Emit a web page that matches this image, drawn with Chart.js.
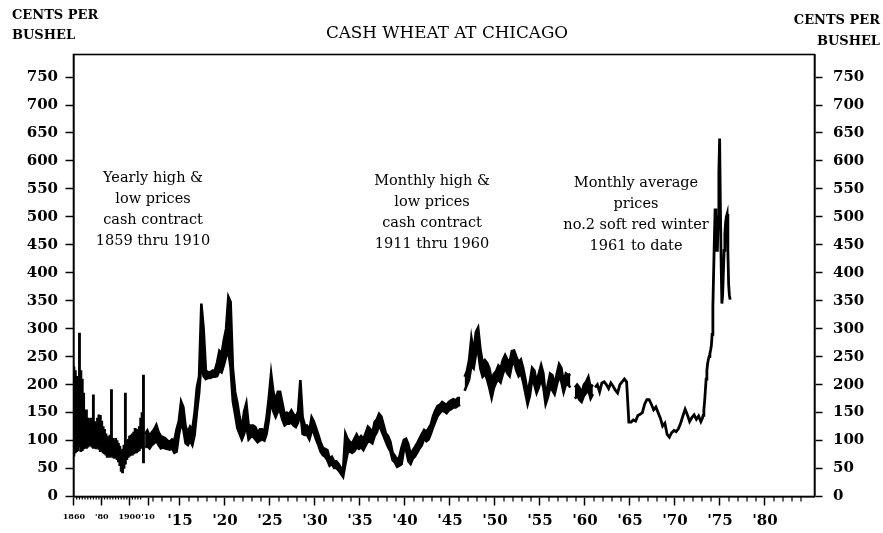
<!DOCTYPE html>
<html>
<head>
<meta charset="utf-8">
<script src="https://cdn.jsdelivr.net/npm/chart.js@4.4.1/dist/chart.umd.min.js"></script>
<style>
html,body{margin:0;padding:0;background:#fff;}
#wrap{width:883px;height:533px;position:relative;overflow:hidden;background:#fff;}
canvas{display:block;}
</style>
</head>
<body>
<div id="wrap"><canvas id="c" width="883" height="533"></canvas></div>
<script>
// ---------------- DATA ----------------
const TITLE = 'CASH WHEAT AT CHICAGO';
const UNIT_LINES = ['CENTS PER', 'BUSHEL'];

// Yearly high & low, cash contract, 1859 thru 1910 (cents per bushel)
const yearlyStart = 1859;
const yearlyHigh = [
  228, 232, 225, 215, 200, 292, 225, 210, 185, 150,
  155, 140, 135, 140, 130, 182, 134, 130, 140, 146,
  145, 135, 125, 120, 112, 108, 105, 110, 191, 104,
  100, 104, 100, 95, 90, 80, 85, 92, 185, 100,
  102, 108, 110, 112, 115, 122, 120, 115, 125, 140,
  150, 217
];
const yearlyLow = [
  75, 72, 78, 80, 82, 88, 80, 82, 85, 88,
  86, 88, 90, 92, 88, 86, 88, 85, 88, 84,
  80, 82, 78, 76, 74, 70, 72, 70, 72, 70,
  68, 70, 66, 62, 55, 45, 42, 50, 58, 66,
  70, 72, 74, 74, 76, 78, 78, 80, 82, 86,
  90, 60
];

// Monthly high & low, cash contract, 1911 thru 1960 (read per quarter)
const monthlyStart = 1911;
const monthlyHigh = [
  112,118,108,115,  120,128,115,108,  106,104,100,98,   102,100,120,135,  170,160,125,115,
  125,120,150,195,  215,345,300,225,  222,222,225,225,  240,260,255,280,  300,357,348,230,
  187,167,142,122,  152,167,127,127,  127,124,114,120,  120,117,142,177,  220,187,172,187,
  187,167,147,150,  147,154,147,142,  152,208,142,127,  127,117,142,134,  122,110,97,87,
  85,83,68,71,      63,63,58,51,      48,113,103,98,    95,103,111,103,   108,103,113,125,
  121,113,133,138,  148,143,128,113,  108,98,78,73,     65,71,88,101,     103,93,75,83,
  89,96,104,112,    119,116,122,129,  144,154,162,164,  169,166,164,169,  172,174,172,176,
  176,null,214,224, 244,284,259,294,  302,264,239,244,  239,229,209,219,  224,234,229,244,
  253,245,240,260,  261,250,240,245,  230,210,185,205,  230,225,205,220,  235,220,180,200,
  220,217,200,220,  237,230,205,220,  217,219,null,195, 200,195,185,200,  205,214,195,200
];
const monthlyLow = [
  88,90,86,92,      95,100,92,86,     88,86,85,84,      86,78,80,110,     130,120,95,92,
  100,92,110,150,   185,240,215,210,  212,212,214,214,  215,225,222,235,  250,260,230,170,
  147,122,112,102,  112,127,102,107,  107,102,97,100,   102,100,112,137,  172,152,142,152,
  152,137,127,130,  130,132,127,124,  132,152,112,110,  110,102,117,114,  102,92,80,74,
  71,65,55,58,      51,51,47,41,      35,58,78,81,      78,81,88,85,      88,83,91,98,
  98,95,108,115,    128,118,108,98,   88,81,65,61,      53,55,58,83,      83,63,58,68,
  72,79,86,92,      104,99,102,112,   124,134,144,149,  154,152,149,154,  156,159,159,162,
  164,null,189,199, 209,234,229,254,  259,229,214,219,  209,194,176,194,  204,209,204,219,
  230,220,215,235,  240,225,215,220,  205,185,165,180,  210,200,185,195,  210,195,165,177,
  195,190,183,200,  215,205,186,200,  200,195,null,175, 180,173,169,180,  185,190,175,183
];

// Monthly average prices, no.2 soft red winter, 1961 to date
const averageStart = 1961;          // read per quarter 1961-1972
const averageQuarterly = [
  195,200,187,203,  205,200,193,203,  197,190,185,200,  205,210,205,133,
  133,137,135,145,  147,150,165,173,  173,165,155,160,  150,140,126,131,
  111,106,114,118,  116,121,131,144,  156,146,134,141,  146,138,144,134
];
const averageMonthlyStart = 1973;   // read per month 1973-1976
const averageMonthly = [
  140,145,155,170,190,210,225,238,245,250,255,262,
  270,290,340,400,460,515,480,440,440,500,580,640,
  520,420,345,360,400,440,470,490,500,505,440,380,
  360,352
];

// Axis ticks
const yTickValues = [0,50,100,150,200,250,300,350,400,450,500,550,600,650,700,750];
const xLabelYears = [1860,1880,1900,1910,1915,1920,1925,1930,1935,1940,1945,1950,1955,1960,1965,1970,1975,1980];
const xTickLabels = ['1860',"'80",'1900',"'10","'15","'20","'25","'30","'35","'40","'45","'50","'55","'60","'65","'70","'75","'80"];

const annotations = [
  {lines:['Yearly high &','low prices','cash contract','1859 thru 1910'], x:153, y:178},
  {lines:['Monthly high &','low prices','cash contract','1911 thru 1960'], x:432, y:181},
  {lines:['Monthly average','prices','no.2 soft red winter','1961 to date'], x:636, y:183}
];

// ---------------- AXIS TRANSFORM ----------------
// 1859-1910 is drawn compressed; from 1911 on one unit = one year.
const EARLY_T0 = 1903.06, EARLY_RATE = 0.1546, SPLIT = 1911;
function tOf(year){ return year < SPLIT ? EARLY_T0 + (year - yearlyStart) * EARLY_RATE : year; }
function labelPos(year){ return year === 1910 ? SPLIT + 0.45 : tOf(year); }
const XMIN = 1903.17, XMAX = 1985.5, YMAX = 790.3;

const FONT = '"DejaVu Serif", "Liberation Serif", serif';

// ---------------- BUILD SERIES ----------------
const yearlyPoints = yearlyHigh.map((h, i) => ({x: tOf(yearlyStart + i), y: [yearlyLow[i], h]}));
const highPoints = monthlyHigh.map((v, i) => ({x: monthlyStart + (i + 0.5) / 4, y: v}));
const lowPoints = monthlyLow.map((v, i) => ({x: monthlyStart + (i + 0.5) / 4, y: v}));
const avgPoints = averageQuarterly.map((v, i) => ({x: averageStart + (i + 0.5) / 4, y: v}))
  .concat(averageMonthly.map((v, i) => ({x: averageMonthlyStart + (i + 0.5) / 12, y: v})));

// ---------------- PLUGINS ----------------
const decor = {
  id: 'decor',
  beforeDraw(chart){
    const ctx = chart.ctx;
    ctx.save();
    ctx.fillStyle = '#fff';
    ctx.fillRect(0, 0, chart.width, chart.height);
    ctx.restore();
  },
  afterDraw(chart){
    const ctx = chart.ctx, a = chart.chartArea, xs = chart.scales.x;
    ctx.save();
    ctx.strokeStyle = '#000';
    ctx.lineWidth = 1.6;
    ctx.strokeRect(a.left, a.top, a.right - a.left, a.bottom - a.top);
    ctx.lineWidth = 1.2;
    ctx.beginPath();
    for (let y = 1912; y <= 1984; y++) {
      if (y % 5 === 0) continue;
      const px = xs.getPixelForValue(y);
      ctx.moveTo(px, a.bottom); ctx.lineTo(px, a.bottom + 5);
    }
    for (let y = 1862; y <= 1908; y += 2) {
      const px = xs.getPixelForValue(tOf(y));
      ctx.moveTo(px, a.bottom); ctx.lineTo(px, a.bottom + 3);
    }
    ctx.stroke();
    ctx.fillStyle = '#000';
    ctx.textBaseline = 'middle';
    ctx.textAlign = 'center';
    ctx.font = '16.8px ' + FONT;
    ctx.fillText(TITLE, 447, 34);
    ctx.font = 'bold 13px ' + FONT;
    ctx.textAlign = 'left';
    ctx.fillText(UNIT_LINES[0], 12, 15.5);
    ctx.fillText(UNIT_LINES[1], 12, 36);
    ctx.textAlign = 'right';
    ctx.fillText(UNIT_LINES[0], 880, 21);
    ctx.fillText(UNIT_LINES[1], 880, 42);
    ctx.textAlign = 'center';
    ctx.font = '14.5px ' + FONT;
    annotations.forEach(an => {
      an.lines.forEach((ln, i) => ctx.fillText(ln, an.x, an.y + i * 21));
    });
    ctx.restore();
  }
};

const tickFont = {family: FONT, size: 15, weight: 'bold'};
const yAxisCommon = {
  type: 'linear', min: 0, max: YMAX, offset: false,
  afterBuildTicks: s => { s.ticks = yTickValues.map(v => ({value: v})); },
  ticks: {color: '#000', font: tickFont, padding: 7.5},
  grid: {drawOnChartArea: false, drawTicks: true, tickLength: 8, tickColor: '#000', tickWidth: 1.5, offset: false},
  border: {display: true, color: '#000', width: 1.6}
};

new Chart(document.getElementById('c'), {
  type: 'line',
  data: {
    datasets: [
      {type: 'bar', label: 'Yearly high & low', data: yearlyPoints, backgroundColor: '#000',
       borderWidth: 0, barThickness: 2.2, xAxisID: 'x', yAxisID: 'y'},
      {type: 'line', label: 'Monthly high', data: highPoints, borderColor: '#000', borderWidth: 2.6,
       pointRadius: 0, fill: false, spanGaps: false, tension: 0, xAxisID: 'x', yAxisID: 'y'},
      {type: 'line', label: 'Monthly low', data: lowPoints, borderColor: '#000', borderWidth: 2.6,
       backgroundColor: '#000', pointRadius: 0, fill: '-1', spanGaps: false, tension: 0, xAxisID: 'x', yAxisID: 'y'},
      {type: 'line', label: 'Monthly average', data: avgPoints, borderColor: '#000', borderWidth: 2.8,
       pointRadius: 0, fill: false, tension: 0, xAxisID: 'x', yAxisID: 'y'}
    ]
  },
  options: {
    responsive: false, animation: false, devicePixelRatio: 1,
    layout: {padding: {top: 54.5, left: 0, right: 0, bottom: 0}},
    plugins: {legend: {display: false}, tooltip: {enabled: false}, title: {display: false}},
    scales: {
      x: {
        type: 'linear', position: 'bottom', min: XMIN, max: XMAX, offset: false,
        afterBuildTicks: s => { s.ticks = xLabelYears.map(y => ({value: labelPos(y)})); },
        afterFit: s => { s.height = 36.5; },
        ticks: {
          autoSkip: false, maxRotation: 0, minRotation: 0, color: '#000', padding: 6.5,
          callback: (v, i) => xTickLabels[i],
          font: c => (c.index < 4 ? {family: FONT, size: 8, weight: 'bold'} : tickFont)
        },
        grid: {drawOnChartArea: false, drawTicks: true, tickLength: 9, tickColor: '#000', tickWidth: 1.5, offset: false},
        border: {display: true, color: '#000', width: 1.6}
      },
      y: Object.assign({}, yAxisCommon, {position: 'left', afterFit: s => { s.width = 73.5; }}),
      y2: Object.assign({}, yAxisCommon, {position: 'right', afterFit: s => { s.width = 68.5; },
        ticks: {color: '#000', font: tickFont, padding: 10.5}})
    }
  },
  plugins: [decor]
});
</script>
</body>
</html>
